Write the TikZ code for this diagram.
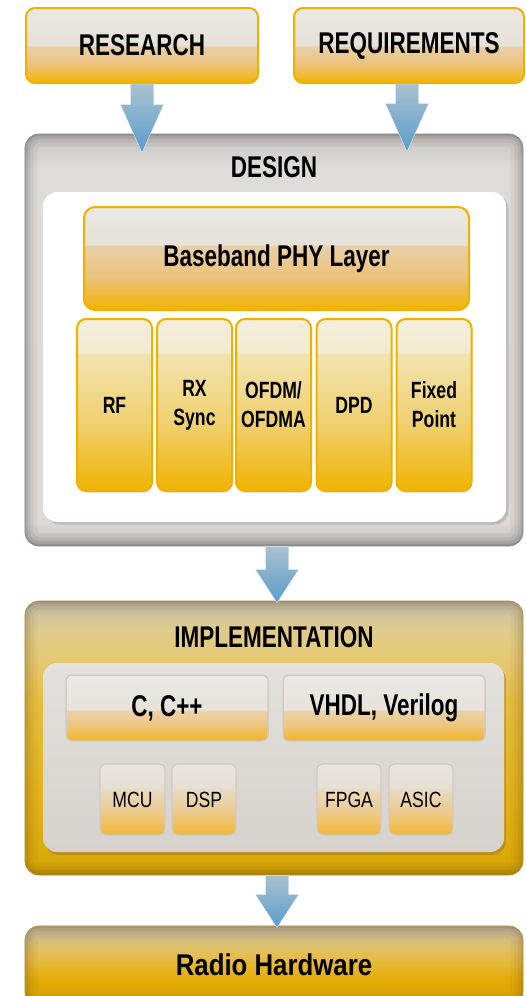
\documentclass[tikz,border=0pt]{standalone}
\usepackage{fontspec}
\setmainfont{Liberation Sans}
\newfontfamily\condsans{Liberation Sans}[FakeStretch=0.75]
\newfontfamily\radiosans{Liberation Sans}[FakeStretch=0.86]
\newfontfamily\chipsans{Liberation Sans}[FakeStretch=0.8]
\usetikzlibrary{calc,shadows}

% palette
\definecolor{boxgold}{HTML}{F0B000}
\definecolor{oTop}{HTML}{EAE8E4}
\definecolor{oMid}{HTML}{E6E1D9}
\definecolor{oLow}{HTML}{E8D0AA}
\definecolor{oLM}{HTML}{EDC27A}
\definecolor{oBot}{HTML}{F2B300}
\definecolor{cTop}{HTML}{F3EFDC}
\definecolor{cMid}{HTML}{F2EBD0}
\definecolor{cLow}{HTML}{F2E4B0}
\definecolor{cLM}{HTML}{F0D070}
\definecolor{cBot}{HTML}{F0B300}
\definecolor{lTop}{HTML}{EAE8E5}
\definecolor{lMid}{HTML}{E8E3DA}
\definecolor{lLow}{HTML}{EAD3AE}
\definecolor{lLM}{HTML}{EEC67E}
\definecolor{lBot}{HTML}{F1B41E}
\definecolor{mTop}{HTML}{E7E4DF}
\definecolor{mMid}{HTML}{E6DFD4}
\definecolor{mLow}{HTML}{E8DBC6}
\definecolor{mLM}{HTML}{ECCB8C}
\definecolor{mBot}{HTML}{F1B733}
\definecolor{greyedge}{HTML}{D0CAC8}
\definecolor{arrowtop}{HTML}{A9C1CF}
\definecolor{arrowbot}{HTML}{5A9DCB}
\definecolor{dT}{HTML}{C6C3C1}
\definecolor{dM}{HTML}{DDDAD7}
\definecolor{dM2}{HTML}{DEDBD8}
\definecolor{dB}{HTML}{C0BDBB}
\definecolor{iA}{HTML}{BCB5A5}
\definecolor{iB}{HTML}{CFC39E}
\definecolor{iC}{HTML}{DFCC8C}
\definecolor{iD}{HTML}{E6C870}
\definecolor{iE}{HTML}{E5BE40}
\definecolor{iF}{HTML}{E2B218}
\definecolor{iG}{HTML}{D9A808}
\definecolor{iH}{HTML}{C99A00}
\definecolor{rA}{HTML}{BFB49E}
\definecolor{rB}{HTML}{CDBB8A}
\definecolor{rC}{HTML}{E2C060}
\definecolor{rD}{HTML}{E6B830}
\definecolor{rE}{HTML}{E3AB05}
\definecolor{rF}{HTML}{D8A000}
\definecolor{panelTop}{HTML}{E3E1DD}
\definecolor{panelBot}{HTML}{D6D2CE}

% vertical shadings (the filled path is mapped onto 25bp..75bp, top at 75bp)
\pgfdeclareverticalshading{designshade}{100bp}{color(0bp)=(dB); color(25bp)=(dB); color(28bp)=(dM); color(71bp)=(dM2); color(75bp)=(dT); color(100bp)=(dT)}
\pgfdeclareverticalshading{implshade}{100bp}{color(0bp)=(iH); color(25bp)=(iH); color(27.7bp)=(iG); color(38.7bp)=(iF); color(57bp)=(iE); color(64.2bp)=(iD); color(69.7bp)=(iC); color(73bp)=(iB); color(75bp)=(iA); color(100bp)=(iA)}
\pgfdeclareverticalshading{radioshade}{100bp}{color(0bp)=(rF); color(25bp)=(rF); color(41.25bp)=(rE); color(50.6bp)=(rD); color(60bp)=(rC); color(69.4bp)=(rB); color(75bp)=(rA); color(100bp)=(rA)}
% glossy boxes: pale band on top, warm gradient below
\pgfdeclareverticalshading{glossinput}{100bp}{color(0bp)=(oBot); color(25bp)=(oBot); color(37.3bp)=(oLM); color(49.6bp)=(oLow); color(49.8bp)=(oMid); color(75bp)=(oTop); color(100bp)=(oTop)}
\pgfdeclareverticalshading{glossphy}{100bp}{color(0bp)=(oBot); color(25bp)=(oBot); color(40.7bp)=(oLM); color(56.4bp)=(oLow); color(56.6bp)=(oMid); color(75bp)=(oTop); color(100bp)=(oTop)}
\pgfdeclareverticalshading{glosscell}{100bp}{color(0bp)=(cBot); color(25bp)=(cBot); color(45bp)=(cLM); color(65bp)=(cLow); color(65.2bp)=(cMid); color(75bp)=(cTop); color(100bp)=(cTop)}
\pgfdeclareverticalshading{glosslang}{100bp}{color(0bp)=(lBot); color(25bp)=(lBot); color(36.7bp)=(lLM); color(48.4bp)=(lLow); color(48.6bp)=(lMid); color(75bp)=(lTop); color(100bp)=(lTop)}
\pgfdeclareverticalshading{glosschip}{100bp}{color(0bp)=(mBot); color(25bp)=(mBot); color(41.5bp)=(mLM); color(58bp)=(mLow); color(58.2bp)=(mMid); color(75bp)=(mTop); color(100bp)=(mTop)}

\newcommand\headfont{\condsans\bfseries\fontsize{30}{34}\selectfont}
\newcommand\cellfont{\condsans\bfseries\fontsize{23.5}{29}\selectfont}
\newcommand\chipfont{\chipsans\fontsize{22}{26}\selectfont}

% soft darkening along the inside of a rounded panel
\newcommand\edgeglow[3]{%
  \begin{scope}
    \clip[rounded corners=#3] (#1.south west) rectangle (#1.north east);
    \foreach \ww/\oo in {26/0.04,18/0.05,11/0.07,5/0.09}{%
      \draw[#2, opacity=\oo, line width=\ww pt, rounded corners=#3]
        (#1.south west) rectangle (#1.north east);}
  \end{scope}}

% fat blue arrow: start point, tip, head length
\newcommand\blockarrow[3]{%
  \shade[top color=arrowtop, bottom color=arrowbot, draw=white!60!arrowtop, line width=0.4pt]
    let \p1=#1, \p2=#2 in
    (\x1-11.5pt,\y1) -- (\x1-11.5pt,\y2+#3) -- (\x1-21.5pt,\y2+#3) -- (\x1,\y2)
    -- (\x1+21.5pt,\y2+#3) -- (\x1+11.5pt,\y2+#3) -- (\x1+11.5pt,\y1) -- cycle;}

\tikzset{
  orangebox/.style={shading=glossinput, draw=boxgold, line width=2pt, rounded corners=9pt,
    inner sep=0pt, font=\headfont},
  cellbox/.style={shading=glosscell, draw=boxgold, line width=2pt, rounded corners=9pt,
    inner sep=0pt, minimum width=75pt, minimum height=172pt, align=center, font=\cellfont,
    drop shadow={shadow xshift=0.5pt, shadow yshift=-2pt, opacity=0.18}},
  langbox/.style={shading=glosslang, draw=greyedge, line width=1.5pt, rounded corners=6pt,
    inner sep=0pt, minimum width=202pt, minimum height=66pt, font=\headfont},
  chipbox/.style={shading=glosschip, draw=greyedge, line width=1.2pt, rounded corners=6pt,
    inner sep=0pt, minimum height=71pt, font=\chipfont},
  panel/.style={rounded corners=14pt, inner sep=0pt},
  heading/.style={font=\headfont, inner sep=0pt},
}

\begin{document}
\begin{tikzpicture}[x=1pt,y=1pt]
\useasboundingbox (0,0) rectangle (525,-996);

% inputs
\node[orangebox, minimum width=232pt, minimum height=75pt] (research) at (142,-45.5) {RESEARCH};
\node[orangebox, minimum width=230pt, minimum height=75pt] (requirements) at (409,-45.5) {REQUIREMENTS};

% design stage
\node[panel, shading=designshade, draw=black!30, line width=0.6pt,
      minimum width=498pt, minimum height=412pt] (design) at (274,-340) {};
\edgeglow{design}{black}{14pt}
\node[heading] (designtitle) at (274,-167) {DESIGN};
\node[panel, fill=white, minimum width=463pt, minimum height=330pt,
      drop shadow={shadow xshift=2.5pt, shadow yshift=-2.5pt, opacity=0.35}] (designarea) at (274.5,-357) {};
\node[orangebox, shading=glossphy, rounded corners=11pt, minimum width=385pt, minimum height=103pt] (phy) at (276.5,-258.5) {Baseband PHY Layer};
\node[cellbox] (rf)    at (114.5,-405) {RF};
\node[cellbox] (rx)    at (194.5,-405) {RX\\Sync};
\node[cellbox] (ofdm)  at (273.5,-405) {OFDM/\\OFDMA};
\node[cellbox] (dpd)   at (354,-405)   {DPD};
\node[cellbox] (fixed) at (434,-405)   {Fixed\\Point};

% implementation stage
\node[panel, shading=implshade, draw=boxgold!80!black!70, line width=0.6pt,
      minimum width=498pt, minimum height=274pt] (impl) at (274,-738) {};
\edgeglow{impl}{black!60!brown}{14pt}
\node[heading] (impltitle) at (274,-637) {IMPLEMENTATION};
\node[panel, top color=panelTop, bottom color=panelBot, minimum width=461pt, minimum height=189pt,
      drop shadow={shadow xshift=2pt, shadow yshift=-3pt, opacity=0.3, fill=brown!70!black}] (implarea) at (273.5,-757.5) {};
\node[langbox] (cpp)  at (167,-708) {C, C++};
\node[langbox] (vhdl) at (384,-708) {VHDL, Verilog};
\node[chipbox, minimum width=65pt] (mcu)  at (132.5,-799.5) {MCU};
\node[chipbox, minimum width=64pt] (dsp)  at (204,-799.5)   {DSP};
\node[chipbox, minimum width=64pt] (fpga) at (349,-799.5)   {FPGA};
\node[chipbox, minimum width=64pt] (asic) at (421,-799.5)   {ASIC};

% target
\node[panel, shading=radioshade, draw=boxgold!80!black!70, line width=0.6pt,
      minimum width=498pt, minimum height=80pt] (radio) at (274,-966) {};
\edgeglow{radio}{black!60!brown}{14pt}
\node[inner sep=0pt, font=\radiosans\bfseries\fontsize{30}{34}\selectfont] (radiotitle) at (274,-965) {Radio Hardware};

% flow arrows
\blockarrow{(research.south)}{($(research.south |- design.north)+(0,-19)$)}{48pt}
\blockarrow{([xshift=-2pt]requirements.south)}{($([xshift=-2pt]requirements.south |- design.north)+(0,-18)$)}{48pt}
\blockarrow{([xshift=3pt]design.south)}{($([xshift=3pt]design.south |- impl.north)+(0,-2)$)}{33pt}
\blockarrow{([xshift=3pt]impl.south)}{($([xshift=3pt]impl.south |- radio.north)+(0,-2)$)}{33pt}
\end{tikzpicture}
\end{document}
